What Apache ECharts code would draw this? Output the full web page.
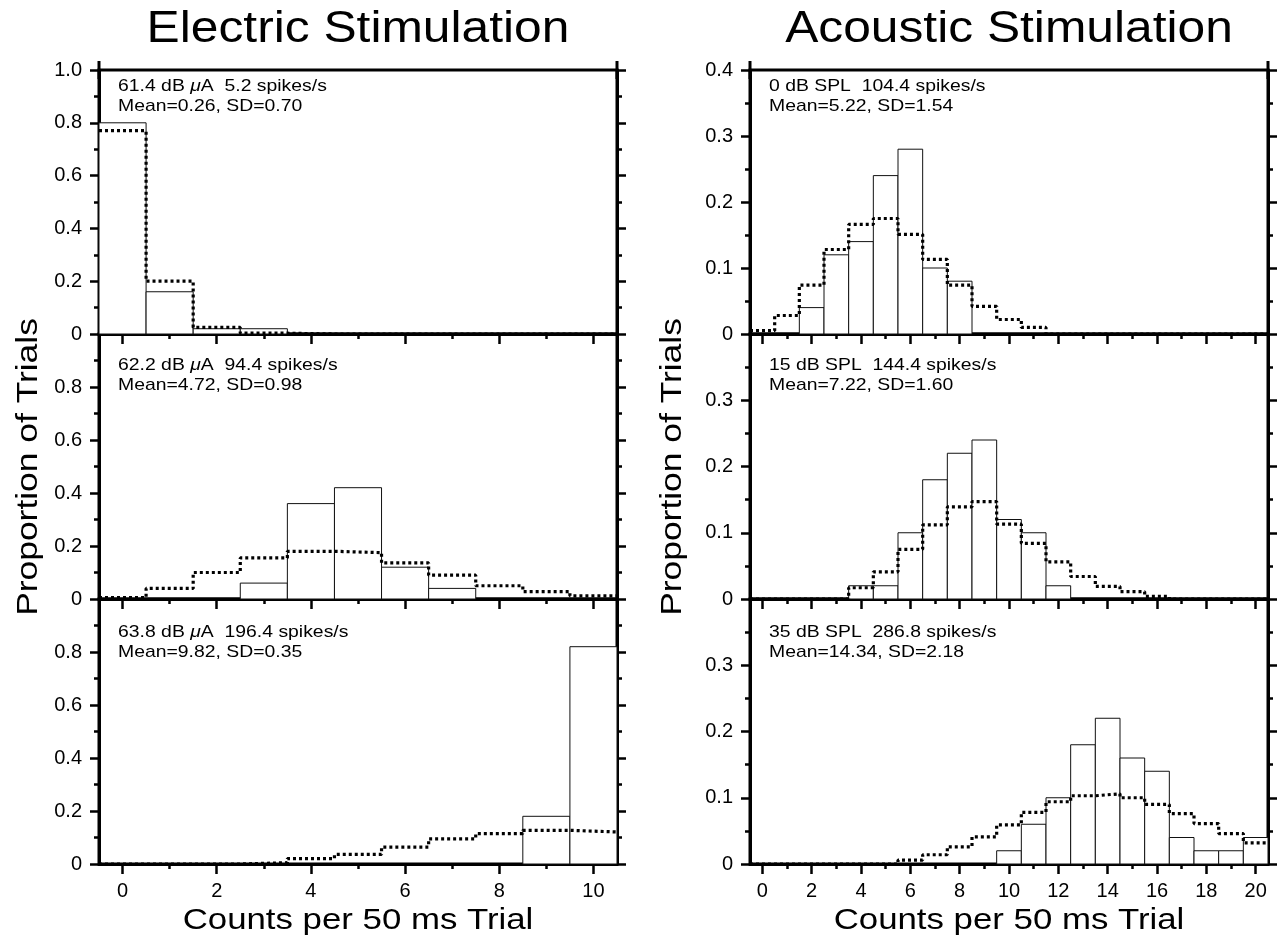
<!DOCTYPE html>
<html><head><meta charset="utf-8">
<script src="https://cdn.jsdelivr.net/npm/echarts@6/dist/echarts.min.js"></script>
<style>html,body{margin:0;padding:0;background:#fff}#c{width:1278px;height:939px}</style>
</head><body><div id="c"></div>
<script>
// ---------------- DATA ----------------
const elecCounts = [0,1,2,3,4,5,6,7,8,9,10];
const acouCounts = [0,1,2,3,4,5,6,7,8,9,10,11,12,13,14,15,16,17,18,19,20];
const elecXMajor = [0,2,4,6,8,10];
const elecXMinor = [1,3,5,7,9];
const acouXMajor = [0,2,4,6,8,10,12,14,16,18,20];
const acouXMinor = [1,3,5,7,9,11,13,15,17,19];

// Electric stimulation: observed proportions (bars) and model (dotted)
const elecObs1   = [0.80,0.16,0.02,0.02,0,0,0,0,0,0,0];
const elecModel1 = [0.77,0.20,0.025,0.003,0,0,0,0,0,0,0];
const elecObs2   = [0,0,0,0.06,0.36,0.42,0.12,0.04,0,0,0];
const elecModel2 = [0.005,0.04,0.10,0.155,0.18,0.175,0.136,0.09,0.05,0.028,0.012];
const elecObs3   = [0,0,0,0,0,0,0,0,0,0.18,0.82];
const elecModel3 = [0,0,0,0.005,0.02,0.036,0.064,0.095,0.115,0.127,0.121];

// Acoustic stimulation
const acouObs1   = [0,0,0.04,0.12,0.14,0.24,0.28,0.10,0.08,0,0,0,0,0,0,0,0,0,0,0,0];
const acouModel1 = [0.005,0.028,0.074,0.128,0.166,0.175,0.151,0.113,0.074,0.042,0.022,0.01,0,0,0,0,0,0,0,0,0];
const acouObs2   = [0,0,0,0,0.02,0.02,0.10,0.18,0.22,0.24,0.12,0.10,0.02,0,0,0,0,0,0,0,0];
const acouModel2 = [0,0,0,0,0.017,0.041,0.075,0.112,0.139,0.147,0.113,0.084,0.056,0.034,0.019,0.011,0.004,0,0,0,0];
const acouObs3   = [0,0,0,0,0,0,0,0,0,0,0.02,0.06,0.10,0.18,0.22,0.16,0.14,0.04,0.02,0.02,0.04];
const acouModel3 = [0,0,0,0,0,0,0.006,0.014,0.026,0.041,0.059,0.078,0.094,0.103,0.106,0.100,0.090,0.076,0.061,0.046,0.032];

const elecLevels = ['61.4 dB μA', '62.2 dB μA', '63.8 dB μA'];
const elecRates  = ['5.2 spikes/s', '94.4 spikes/s', '196.4 spikes/s'];
const elecStats  = ['Mean=0.26, SD=0.70', 'Mean=4.72, SD=0.98', 'Mean=9.82, SD=0.35'];
const acouLevels = ['0 dB SPL', '15 dB SPL', '35 dB SPL'];
const acouRates  = ['104.4 spikes/s', '144.4 spikes/s', '286.8 spikes/s'];
const acouStats  = ['Mean=5.22, SD=1.54', 'Mean=7.22, SD=1.60', 'Mean=14.34, SD=2.18'];

const columnTitles = ['Electric Stimulation', 'Acoustic Stimulation'];
const yTitle = 'Proportion of Trials';
const xTitle = 'Counts per 50 ms Trial';

// ---------------- LAYOUT ----------------
const FONT = '"Liberation Sans", Arial, sans-serif';
const colX = [99, 750];
const W = 518;
const rowTop = [70, 334, 599];
const rowH = [264, 265, 265];
const textTop = [6, 21, 23];
const STRETCH = 1.14;

const columns = [
  { counts: elecCounts, major: elecXMajor, minor: elecXMinor, xmax: 10.5, ymax: 1.0, yint: 0.2,
    obs: [elecObs1, elecObs2, elecObs3], model: [elecModel1, elecModel2, elecModel3],
    levels: elecLevels, rates: elecRates, stats: elecStats },
  { counts: acouCounts, major: acouXMajor, minor: acouXMinor, xmax: 20.5, ymax: 0.4, yint: 0.1,
    obs: [acouObs1, acouObs2, acouObs3], model: [acouModel1, acouModel2, acouModel3],
    levels: acouLevels, rates: acouRates, stats: acouStats }
];

const grids = [], xAxes = [], yAxes = [], series = [], graphics = [];
const AXW = 3;

function barRender(params, api) {
  const x = api.value(0), y = api.value(1);
  const p0 = api.coord([x - 0.5, y]);
  const p1 = api.coord([x + 0.5, 0]);
  return { type: 'rect',
    shape: { x: p0[0], y: p0[1], width: p1[0] - p0[0], height: p1[1] - p0[1] },
    style: { fill: '#fff', stroke: '#111', lineWidth: 1 } };
}

columns.forEach((col, c) => {
  for (let r = 0; r < 3; r++) {
    const gi = grids.length;
    grids.push({ left: colX[c], top: rowTop[r], width: W, height: rowH[r], show: true,
      borderColor: '#000', borderWidth: AXW, backgroundColor: 'transparent' });
    const bottomRow = r === 2;
    // major x axis
    xAxes.push({ type: 'value', gridIndex: gi, min: -0.5, max: col.xmax, position: 'bottom',
      axisLine: { show: true, onZero: false, lineStyle: { color: '#000', width: AXW } },
      axisTick: { show: true, customValues: col.major, length: 10, lineStyle: { color: '#000', width: 2.5 } },
      axisLabel: { show: bottomRow, customValues: col.major, margin: 17, color: '#000',
        fontFamily: FONT, fontSize: 20 },
      splitLine: { show: false } });
    // minor x ticks
    xAxes.push({ type: 'value', gridIndex: gi, min: -0.5, max: col.xmax, position: 'bottom',
      axisLine: { show: false, onZero: false },
      axisTick: { show: true, customValues: col.minor, length: 5, lineStyle: { color: '#000', width: 2.5 } },
      axisLabel: { show: false }, splitLine: { show: false } });
    const yCommon = { type: 'value', gridIndex: gi, min: 0, max: col.ymax, interval: col.yint,
      axisLine: { show: true, onZero: false, lineStyle: { color: '#000', width: AXW },
        symbol: r === 0 ? ['none', 'rect'] : 'none', symbolSize: [3, 18] },
      axisTick: { show: true, length: 9, lineStyle: { color: '#000', width: 2.5 } },
      minorTick: { show: true, splitNumber: 2, length: 5, lineStyle: { color: '#000', width: 2.5 } },
      splitLine: { show: false }, minorSplitLine: { show: false } };
    yAxes.push(Object.assign({}, yCommon, { position: 'left',
      axisLabel: { show: true, showMaxLabel: r === 0, margin: 17, color: '#000', fontFamily: FONT, fontSize: 20,
        formatter: v => (v === 0 ? '0' : v.toFixed(1)) } }));
    yAxes.push(Object.assign({}, yCommon, { position: 'right', axisLabel: { show: false } }));

    const xi = 2 * gi, yi = 2 * gi;
    series.push({ type: 'custom', coordinateSystem: 'cartesian2d', xAxisIndex: xi, yAxisIndex: yi,
      renderItem: barRender, z: 2, silent: true,
      data: col.counts.map((k, i) => [k, col.obs[r][i]]).filter(d => d[1] > 0) });
    const edges = col.counts.map((k, i) => [k - 0.5, col.model[r][i]]);
    edges.push([col.xmax, col.model[r][col.counts.length - 1]]);
    series.push({ type: 'line', xAxisIndex: xi, yAxisIndex: yi, step: 'end', symbol: 'none',
      showSymbol: false, z: 5, silent: true, animation: false,
      lineStyle: { color: '#000', width: 3.2, type: [3, 3], cap: 'butt' }, data: edges });

    const lvl = col.levels[r].replace('μ', '{i|μ}');
    graphics.push({ type: 'text', x: colX[c] + 19, y: rowTop[r] + textTop[r], z: 10, scaleX: STRETCH,
      style: { text: lvl + '  ' + col.rates[r] + '\n' + col.stats[r], fontFamily: FONT, fontSize: 17,
        lineHeight: 20, fill: '#000', verticalAlign: 'top', align: 'left',
        rich: { i: { fontStyle: 'italic', fontFamily: FONT, fontSize: 17, lineHeight: 20 } } } });
  }
  const cx = colX[c] + W / 2;
  graphics.push({ type: 'text', x: cx, y: 30, z: 10, scaleX: 1.13,
    style: { text: columnTitles[c], fontFamily: FONT, fontSize: 44, fill: '#000', align: 'center', verticalAlign: 'middle' } });
  graphics.push({ type: 'text', x: cx, y: 921, z: 10, scaleX: 1.16,
    style: { text: xTitle, fontFamily: FONT, fontSize: 30, fill: '#000', align: 'center', verticalAlign: 'middle' } });
  graphics.push({ type: 'text', x: c === 0 ? 29 : 673, y: 467, rotation: Math.PI / 2, z: 10, scaleX: 1.18,
    style: { text: yTitle, fontFamily: FONT, fontSize: 30, fill: '#000', align: 'center', verticalAlign: 'middle' } });
});

const chart = echarts.init(document.getElementById('c'), null, { renderer: 'canvas' });
chart.setOption({
  animation: false,
  backgroundColor: '#fff',
  grid: grids, xAxis: xAxes, yAxis: yAxes, series: series, graphic: graphics
});
</script></body></html>
